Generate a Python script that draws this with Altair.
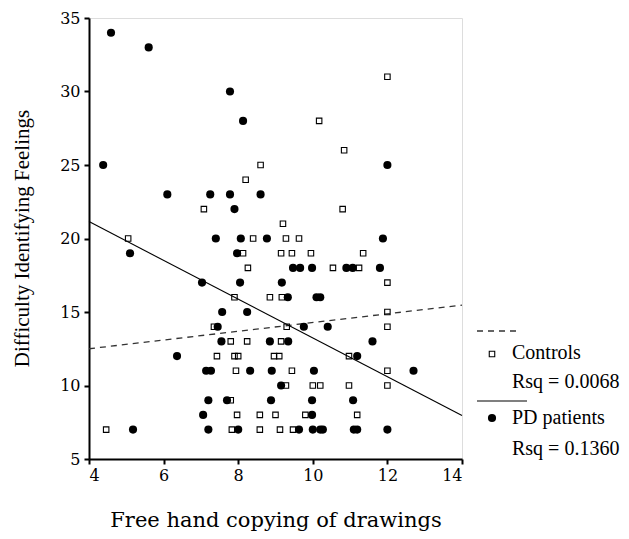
import altair as alt
import pandas as pd

# Controls (open squares)
ctrl_x = [12.0, 10.17, 10.84, 8.6, 8.2, 7.08, 10.8, 9.2, 5.05, 8.4, 9.28, 9.63,
          8.13, 9.15, 9.44, 9.95, 11.35, 8.26, 10.54, 11.24, 12.0, 7.9, 8.85, 9.17,
          12.0, 7.35, 9.3, 12.0, 7.8, 8.24, 9.15, 7.43, 7.9, 8.0, 8.96, 9.1, 10.97,
          7.94, 9.44, 12.0, 9.28, 10.0, 10.2, 10.97, 12.0, 7.8, 7.97, 8.58, 9.0,
          9.8, 11.19, 4.46, 7.83, 8.58, 9.12, 9.47]
ctrl_y = [31, 28, 26, 25, 24, 22, 22, 21, 20, 20, 20, 20,
          19, 19, 19, 19, 19, 18, 18, 18, 17, 16, 16, 16,
          15, 14, 14, 14, 13, 13, 13, 12, 12, 12, 12, 12, 12,
          11, 11, 11, 10, 10, 10, 10, 10, 9, 8, 8, 8,
          8, 8, 7, 7, 7, 7, 7]

# PD patients (filled circles)
pd_x = [4.59, 5.6, 7.78, 8.13, 4.38, 12.0, 6.1, 7.25, 7.78, 8.6, 7.9, 7.4,
        8.07, 8.77, 11.88, 5.1, 7.97, 9.47, 9.66, 9.98, 10.9, 11.07, 11.8, 7.03,
        8.05, 9.17, 9.33, 10.1, 10.2, 7.57, 8.24, 7.45, 9.76, 10.4, 7.55, 8.85,
        9.34, 11.6, 6.36, 11.19, 7.14, 7.27, 8.32, 8.9, 10.03, 12.7, 7.2, 7.7,
        8.88, 9.98, 11.08, 9.15, 7.06, 9.98, 5.18, 7.2, 8.0, 9.63, 10.0, 10.2,
        10.27, 11.1, 11.19, 12.0]
pd_y = [34, 33, 30, 28, 25, 25, 23, 23, 23, 23, 22, 20,
        20, 20, 20, 19, 19, 18, 18, 18, 18, 18, 18, 17,
        17, 17, 16, 16, 16, 15, 15, 14, 14, 14, 13, 13,
        13, 13, 12, 12, 11, 11, 11, 11, 11, 11, 9, 9,
        9, 9, 9, 10, 8, 8, 7, 7, 7, 7, 7, 7,
        7, 7, 7, 7]

# Fit lines
fit_x = [4, 14]
ctrl_fit = [12.5, 15.47]
pd_fit = [21.15, 7.96]

x_ticks = [4, 6, 8, 10, 12, 14]
y_ticks = [5, 10, 15, 20, 25, 30, 35]
legend_labels = ["Controls", "Rsq = 0.0068", "PD patients", "Rsq = 0.1360"]

x_title = "Free hand copying of drawings"
y_title = "Difficulty Identifying Feelings"

ctrl_df = pd.DataFrame({"x": ctrl_x, "y": ctrl_y})
pd_df = pd.DataFrame({"x": pd_x, "y": pd_y})
ctrl_fit_df = pd.DataFrame({"x": fit_x, "y": ctrl_fit})
pd_fit_df = pd.DataFrame({"x": fit_x, "y": pd_fit})

xs = alt.Scale(domain=[4, 14], nice=False, zero=False)
ys = alt.Scale(domain=[5, 35], nice=False, zero=False)

x_axis = alt.Axis(values=x_ticks, title=x_title, grid=False, domainColor="black",
                  domainWidth=2, tickColor="black", tickWidth=2, tickSize=5,
                  labelFont="DejaVu Serif", labelFontSize=16, labelColor="black",
                  labelPadding=3, titleFont="DejaVu Serif", titleFontSize=21,
                  titleFontWeight="normal", titleColor="black",
                  titleX=186.5, titleY=67, titleBaseline="alphabetic")
y_axis = alt.Axis(values=y_ticks, title=y_title, grid=False, domainColor="black",
                  domainWidth=2, tickColor="black", tickWidth=2, tickSize=5,
                  labelFont="DejaVu Serif", labelFontSize=16, labelColor="black",
                  labelPadding=4, titleFont="Liberation Serif", titleFontSize=21,
                  titleFontWeight="normal", titleColor="black",
                  titleX=-67, titleY=220, titleBaseline="middle", titleAngle=270)

X = alt.X("x:Q", scale=xs, axis=x_axis)
Y = alt.Y("y:Q", scale=ys, axis=y_axis)

ctrl_pts = alt.Chart(ctrl_df).mark_point(shape="square", filled=False, color="black",
                                         size=30, strokeWidth=1.1, opacity=1).encode(x=X, y=Y)
pd_pts = alt.Chart(pd_df).mark_circle(color="black", size=66, opacity=1).encode(x=X, y=Y)
ctrl_line = alt.Chart(ctrl_fit_df).mark_line(color="#333", strokeWidth=1.3,
                                             strokeDash=[6, 5]).encode(x=X, y=Y)
pd_line = alt.Chart(pd_fit_df).mark_line(color="black", strokeWidth=1.1).encode(x=X, y=Y)

one = pd.DataFrame({"k": [0]})
leg_dash = alt.Chart(one).mark_rule(color="#333", strokeWidth=1.3, strokeDash=[6, 5]).encode(
    x=alt.value(388), x2=alt.value(431), y=alt.value(313))
leg_sq = alt.Chart(one).mark_point(shape="square", filled=False, color="black", size=30,
                                   strokeWidth=1.1, opacity=1).encode(
    x=alt.value(403), y=alt.value(336))
leg_solid = alt.Chart(one).mark_rule(color="black", strokeWidth=1.1).encode(
    x=alt.value(388), x2=alt.value(438), y=alt.value(383))
leg_circ = alt.Chart(one).mark_circle(color="black", size=66, opacity=1).encode(
    x=alt.value(403), y=alt.value(400))

def leg_text(label, y):
    return alt.Chart(pd.DataFrame({"t": [label]})).mark_text(
        font="Liberation Serif", fontSize=20, color="black", align="left",
        baseline="middle").encode(x=alt.value(423), y=alt.value(y), text="t:N")

texts = [leg_text(legend_labels[0], 335), leg_text(legend_labels[1], 364),
         leg_text(legend_labels[2], 400), leg_text(legend_labels[3], 431)]

chart = alt.layer(ctrl_line, pd_line, ctrl_pts, pd_pts, leg_dash, leg_sq, leg_solid,
                  leg_circ, *texts).properties(
    width=373, height=441,
    autosize=alt.AutoSizeParams(type="none"),
    padding={"left": 81, "top": 10, "right": 159, "bottom": 72},
).configure_view(stroke="#555", strokeWidth=1.5).configure(background="white")

chart.save("out.html", embed_options={"renderer": "svg", "actions": False})
